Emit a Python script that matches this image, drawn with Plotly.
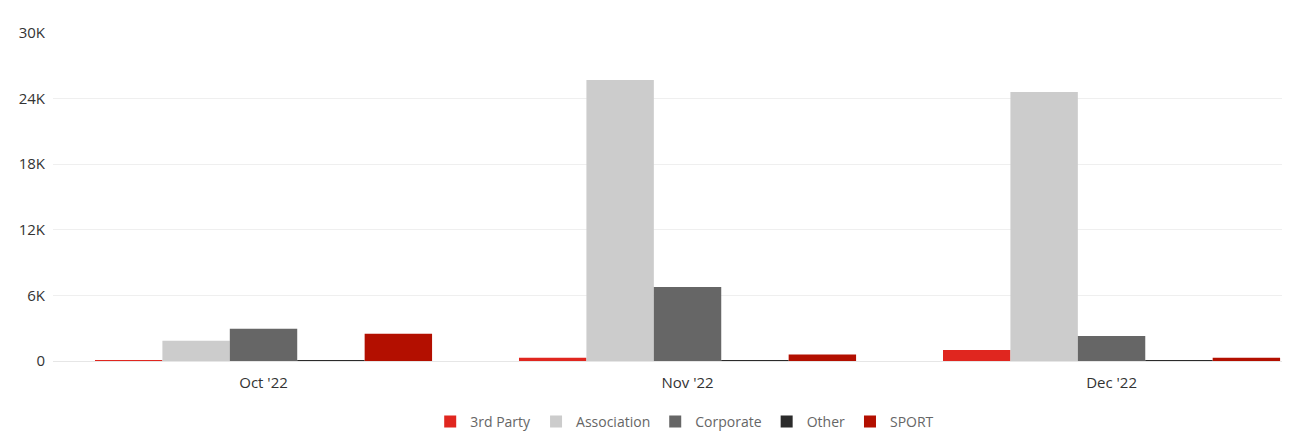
import plotly.graph_objects as go

categories = ["Oct '22", "Nov '22", "Dec '22"]
third_party = [60, 300, 1000]
association = [1860, 25700, 24600]
corporate = [2950, 6770, 2280]
other = [60, 30, 30]
sport = [2500, 600, 300]

y_tickvals = [0, 6000, 12000, 18000, 24000, 30000]
y_ticktext = ["0", "6K", "12K", "18K", "24K", "30K"]

series = [
    ("3rd Party", third_party, "#e0261f"),
    ("Association", association, "#cccccc"),
    ("Corporate", corporate, "#666666"),
    ("Other", other, "#2b2b2b"),
    ("SPORT", sport, "#b30f00"),
]

xpos = list(range(len(categories)))

fig = go.Figure()
for name, vals, color in series:
    fig.add_trace(go.Bar(
        x=xpos, y=vals, name=name,
        marker=dict(color=color, line=dict(width=0)),
        hovertemplate="%{y}<extra>" + name + "</extra>",
    ))

# page body has an 8px margin; figure sized to fill the remaining window
W, Hfig = 1286, 426
top = 25
H = Hfig - top
dom0 = (Hfig - 353) / H

fig.update_layout(
    width=W, height=Hfig,
    margin=dict(l=45, r=12, t=top, b=0, autoexpand=False),
    barmode="group", bargap=0.205, bargroupgap=0,
    paper_bgcolor="white", plot_bgcolor="white",
    font=dict(family="Open Sans", size=15, color="#333333"),
    showlegend=True,
    legend=dict(
        orientation="h", x=0.514, xanchor="center",
        y=(Hfig - 414) / H, yanchor="middle",
        font=dict(size=14, color="#666666"), itemwidth=30,
        traceorder="normal",
    ),
    xaxis=dict(
        range=[-0.4965, 2.402], tickvals=xpos, ticktext=categories,
        showgrid=False, zeroline=False, showline=False, ticks="",
        automargin=False, ticklabelstandoff=11,
        tickfont=dict(size=15, color="#333333"),
    ),
    yaxis=dict(
        domain=[dom0, 1],
        range=[0, 30000], tickvals=y_tickvals, ticktext=y_ticktext,
        showgrid=True, gridcolor="#efefef", gridwidth=1,
        zeroline=True, zerolinecolor="#e6e6e6", zerolinewidth=1,
        ticks="", ticklabelstandoff=7, automargin=False,
        tickfont=dict(size=15, color="#333333"),
    ),
)

fig.write_html("out.html")
